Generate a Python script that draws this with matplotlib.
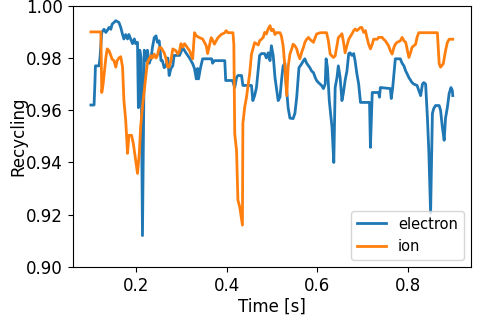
import matplotlib
matplotlib.use("Agg")
import matplotlib.pyplot as plt

electron_t = [0.100, 0.107, 0.109, 0.110, 0.118, 0.120, 0.124, 0.129, 0.133, 0.136,
              0.140, 0.144, 0.147, 0.151, 0.155, 0.162, 0.166, 0.170, 0.173, 0.177,
              0.181, 0.184, 0.188, 0.192, 0.196, 0.199, 0.203, 0.205, 0.208, 0.211,
              0.214, 0.218, 0.222, 0.225, 0.229, 0.233, 0.236, 0.240, 0.244, 0.247,
              0.251, 0.255, 0.258, 0.262, 0.266, 0.270, 0.273, 0.277, 0.281, 0.284,
              0.296, 0.303, 0.310, 0.318, 0.325, 0.329, 0.333, 0.336, 0.338, 0.342,
              0.347, 0.367, 0.369, 0.373, 0.396, 0.398, 0.413, 0.418, 0.422, 0.425,
              0.433, 0.436, 0.455, 0.458, 0.462, 0.466, 0.473, 0.477, 0.484, 0.488,
              0.492, 0.496, 0.499, 0.503, 0.507, 0.510, 0.514, 0.518, 0.522, 0.525,
              0.529, 0.531, 0.534, 0.536, 0.540, 0.547, 0.551, 0.555, 0.560, 0.566,
              0.570, 0.573, 0.577, 0.581, 0.584, 0.588, 0.592, 0.596, 0.599, 0.603,
              0.607, 0.610, 0.614, 0.618, 0.620, 0.623, 0.627, 0.633, 0.637, 0.640,
              0.644, 0.647, 0.651, 0.655, 0.658, 0.662, 0.666, 0.670, 0.673, 0.677,
              0.681, 0.684, 0.688, 0.692, 0.696, 0.716, 0.718, 0.722, 0.736, 0.738,
              0.740, 0.762, 0.764, 0.767, 0.773, 0.784, 0.788, 0.792, 0.796, 0.799,
              0.803, 0.807, 0.810, 0.814, 0.821, 0.825, 0.829, 0.833, 0.836, 0.840,
              0.844, 0.847, 0.851, 0.855, 0.858, 0.862, 0.870, 0.873, 0.877, 0.881,
              0.884, 0.888, 0.892, 0.896, 0.899, 0.900]
electron_r = [0.962, 0.962, 0.971, 0.977, 0.977, 0.980, 0.9898, 0.991, 0.9898, 0.9905,
              0.9917, 0.991, 0.993, 0.9936, 0.9943, 0.9936, 0.9917, 0.989, 0.9873, 0.989,
              0.9873, 0.989, 0.9873, 0.9855, 0.9873, 0.9855, 0.986, 0.961, 0.983, 0.980,
              0.912, 0.983, 0.979, 0.983, 0.978, 0.980, 0.984, 0.9878, 0.9885, 0.986,
              0.9866, 0.979, 0.979, 0.9763, 0.977, 0.980, 0.9733, 0.976, 0.977, 0.981,
              0.981, 0.984, 0.982, 0.980, 0.9778, 0.976, 0.972, 0.976, 0.972, 0.976,
              0.9797, 0.9797, 0.978, 0.979, 0.979, 0.9714, 0.9714, 0.9687, 0.9725, 0.9733,
              0.9733, 0.9695, 0.9695, 0.9637, 0.9656, 0.9687, 0.981, 0.9817, 0.9817, 0.980,
              0.982, 0.979, 0.9847, 0.981, 0.9725, 0.9687, 0.9637, 0.965, 0.9725, 0.977,
              0.978, 0.9714, 0.965, 0.961, 0.957, 0.9568, 0.9588, 0.965, 0.9763, 0.9778,
              0.979, 0.9797, 0.978, 0.977, 0.9763, 0.975, 0.9744, 0.9725, 0.9714, 0.9706,
              0.970, 0.9695, 0.9683, 0.970, 0.9797, 0.9763, 0.9637, 0.9535, 0.940, 0.9687,
              0.9725, 0.977, 0.9725, 0.9637, 0.9664, 0.9714, 0.975, 0.9817, 0.982, 0.981,
              0.9817, 0.979, 0.974, 0.970, 0.963, 0.963, 0.9458, 0.9668, 0.9668, 0.965,
              0.9687, 0.9683, 0.9645, 0.9683, 0.9797, 0.9797, 0.978, 0.977, 0.975, 0.974,
              0.9725, 0.9714, 0.9706, 0.970, 0.9695, 0.9676, 0.9656, 0.970, 0.9706, 0.970,
              0.957, 0.9447, 0.9206, 0.9588, 0.9607, 0.9618, 0.9618, 0.960, 0.9535, 0.9485,
              0.957, 0.961, 0.9664, 0.9687, 0.9676, 0.9656]

ion_t = [0.100, 0.122, 0.124, 0.127, 0.133, 0.136, 0.140, 0.144, 0.147, 0.151,
         0.155, 0.158, 0.162, 0.166, 0.170, 0.173, 0.177, 0.181, 0.184, 0.190,
         0.194, 0.199, 0.203, 0.207, 0.210, 0.214, 0.218, 0.222, 0.225, 0.229,
         0.233, 0.236, 0.240, 0.244, 0.247, 0.251, 0.255, 0.262, 0.266, 0.270,
         0.273, 0.277, 0.281, 0.288, 0.292, 0.296, 0.299, 0.303, 0.307, 0.310,
         0.318, 0.325, 0.329, 0.333, 0.340, 0.347, 0.355, 0.358, 0.366, 0.370,
         0.373, 0.377, 0.381, 0.388, 0.396, 0.399, 0.403, 0.414, 0.416, 0.418,
         0.422, 0.425, 0.429, 0.435, 0.436, 0.440, 0.444, 0.447, 0.451, 0.455,
         0.462, 0.470, 0.473, 0.477, 0.481, 0.484, 0.488, 0.492, 0.496, 0.499,
         0.503, 0.507, 0.510, 0.518, 0.521, 0.525, 0.529, 0.533, 0.536, 0.540,
         0.544, 0.547, 0.551, 0.555, 0.558, 0.562, 0.566, 0.570, 0.573, 0.577,
         0.581, 0.584, 0.592, 0.596, 0.599, 0.607, 0.621, 0.625, 0.629, 0.636,
         0.640, 0.644, 0.647, 0.651, 0.655, 0.658, 0.662, 0.666, 0.670, 0.677,
         0.681, 0.684, 0.688, 0.692, 0.696, 0.699, 0.703, 0.707, 0.710, 0.714,
         0.718, 0.722, 0.725, 0.733, 0.736, 0.744, 0.747, 0.751, 0.758, 0.762,
         0.766, 0.770, 0.773, 0.777, 0.784, 0.788, 0.792, 0.796, 0.799, 0.803,
         0.807, 0.810, 0.818, 0.821, 0.825, 0.833, 0.866, 0.870, 0.873, 0.879,
         0.884, 0.888, 0.892, 0.900]
ion_r = [0.990, 0.990, 0.9668, 0.970, 0.980, 0.9835, 0.9828, 0.981, 0.9795, 0.979,
         0.9765, 0.979, 0.980, 0.9805, 0.9765, 0.9637, 0.956, 0.9435, 0.9504, 0.9504,
         0.947, 0.9408, 0.9358, 0.9435, 0.9537, 0.9613, 0.9677, 0.974, 0.9783, 0.9797,
         0.9809, 0.980, 0.9815, 0.980, 0.981, 0.984, 0.984, 0.982, 0.9797, 0.9765,
         0.9765, 0.979, 0.9835, 0.9828, 0.9815, 0.9828, 0.9855, 0.9842, 0.9855, 0.9848,
         0.9828, 0.9797, 0.9897, 0.9885, 0.9878, 0.9873, 0.9847, 0.9817, 0.9878, 0.9866,
         0.9853, 0.9866, 0.9878, 0.989, 0.9897, 0.9905, 0.9897, 0.9897, 0.9853, 0.951,
         0.9446, 0.9256, 0.923, 0.916, 0.955, 0.9612, 0.965, 0.969, 0.974, 0.9815,
         0.9859, 0.985, 0.9866, 0.9872, 0.9879, 0.9898, 0.9892, 0.9912, 0.9924, 0.9905,
         0.991, 0.989, 0.9897, 0.9897, 0.9885, 0.9847, 0.9765, 0.9656, 0.9765, 0.9815,
         0.9835, 0.9853, 0.9847, 0.9835, 0.9815, 0.9797, 0.9822, 0.9841, 0.986, 0.9872,
         0.9879, 0.9872, 0.986, 0.9879, 0.9892, 0.9897, 0.9897, 0.9866, 0.9815, 0.9802,
         0.9808, 0.9847, 0.9878, 0.9885, 0.9893, 0.9866, 0.982, 0.9847, 0.9872, 0.9892,
         0.9905, 0.9911, 0.9905, 0.9911, 0.9917, 0.9917, 0.9898, 0.9905, 0.988, 0.9853,
         0.9835, 0.9853, 0.9872, 0.9872, 0.9879, 0.9879, 0.9872, 0.9866, 0.9847, 0.9828,
         0.9815, 0.9841, 0.9853, 0.986, 0.9866, 0.9879, 0.9866, 0.986, 0.9835, 0.9802,
         0.9822, 0.9841, 0.9853, 0.9879, 0.9897, 0.9897, 0.9897, 0.9778, 0.9765, 0.9778,
         0.9828, 0.9859, 0.9872, 0.9872]

fig = plt.figure(figsize=(4.79, 3.22), dpi=100)
ax = fig.add_axes([0.152, 0.171, 0.831, 0.811])
ax.plot(electron_t, electron_r, color="#1f77b4", lw=2.0, label="electron")
ax.plot(ion_t, ion_r, color="#ff7f0e", lw=2.0, label="ion")
ax.set_ylim(0.90, 1.00)
ax.set_xlabel("Time [s]", fontsize=12, labelpad=2)
ax.set_ylabel("Recycling", fontsize=12, labelpad=-1)
ax.tick_params(labelsize=12)
ax.legend(loc="lower right", fontsize=10.5)
fig.savefig("out.png", dpi=100)
